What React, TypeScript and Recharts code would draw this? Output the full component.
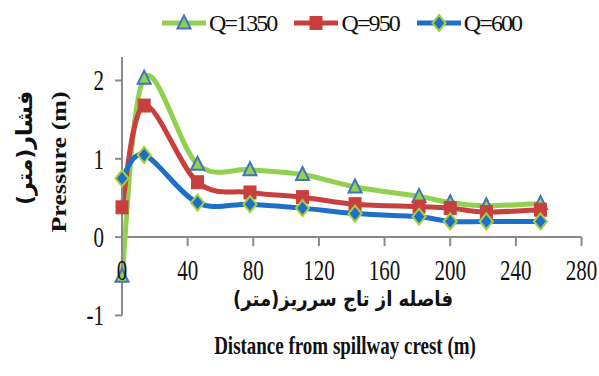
import React from 'react';
import { LineChart, Line, XAxis, YAxis, ReferenceLine, Legend } from 'recharts';

// ---------- data ----------
const distances = [0, 13.5, 46, 78, 110, 142, 181, 200, 222, 255];
const q1350 = [-0.5, 2.03, 0.93, 0.86, 0.8, 0.64, 0.52, 0.44, 0.4, 0.43];
const q950 = [0.38, 1.68, 0.7, 0.57, 0.51, 0.42, 0.39, 0.37, 0.32, 0.35];
const q600 = [0.75, 1.05, 0.44, 0.42, 0.37, 0.3, 0.26, 0.2, 0.2, 0.2];
const seriesNames = ['Q=1350', 'Q=950', 'Q=600'];
const xTicks = [0, 40, 80, 120, 160, 200, 240, 280];
const yTicks = [-1, 0, 1, 2];
const xTitleFa = 'فاصله از تاج سرریز(متر)';
const xTitleEn = 'Distance from spillway crest (m)';
const yTitleFa = 'فشار(متر)';
const yTitleEn = 'Pressure (m)';

const data = distances.map((x, i) => ({ x, q1350: q1350[i], q950: q950[i], q600: q600[i] }));

// ---------- layout / style ----------
const W = 599;
const H = 376;
const MARGIN = { top: 57, right: 17.5, bottom: 30.6, left: 0 };
const X_AXIS_H = 30;
const Y_AXIS_W = 122;
const Y_MIN = -1;
const Y_MAX = 2.3;
const PLOT_H = H - MARGIN.top - MARGIN.bottom - X_AXIS_H;
const Y_ZERO = MARGIN.top + (Y_MAX / (Y_MAX - Y_MIN)) * PLOT_H;
const AXIS = '#8a8a8a';
const SERIF = "'Liberation Serif', 'Times New Roman', serif";
const FA = "'DejaVu Sans', sans-serif";

const GREEN = '#92d050';
const RED = '#c8403e';
const BLUE = '#1e6fc8';

// Excel-like smoothed line (Catmull-Rom through points)
function excelCurve(context: any) {
  let pts: number[][] = [];
  return {
    areaStart() {},
    areaEnd() {},
    lineStart() {
      pts = [];
    },
    point(x: number, y: number) {
      pts.push([+x, +y]);
    },
    lineEnd() {
      const n = pts.length;
      if (!n) return;
      context.moveTo(pts[0][0], pts[0][1]);
      for (let i = 0; i < n - 1; i++) {
        const p0 = pts[i - 1] || pts[i];
        const p1 = pts[i];
        const p2 = pts[i + 1];
        const p3 = pts[i + 2] || p2;
        context.bezierCurveTo(
          p1[0] + (p2[0] - p0[0]) / 6,
          p1[1] + (p2[1] - p0[1]) / 6,
          p2[0] - (p3[0] - p1[0]) / 6,
          p2[1] - (p3[1] - p1[1]) / 6,
          p2[0],
          p2[1]
        );
      }
    },
  };
}

const Triangle = ({ cx, cy }: any) =>
  cx == null || cy == null ? null : (
    <polygon
      points={`${cx},${cy - 7.5} ${cx + 6.5},${cy + 5.5} ${cx - 6.5},${cy + 5.5}`}
      fill={GREEN}
      stroke="#4472c4"
      strokeWidth={2}
    />
  );
const Square = ({ cx, cy }: any) =>
  cx == null || cy == null ? null : (
    <rect x={cx - 6} y={cy - 6.5} width={12} height={13} fill={RED} stroke={RED} strokeWidth={1} />
  );
const Diamond = ({ cx, cy }: any) =>
  cx == null || cy == null ? null : (
    <polygon
      points={`${cx},${cy - 8} ${cx + 6.5},${cy} ${cx},${cy + 8} ${cx - 6.5},${cy}`}
      fill={BLUE}
      stroke="#a4d03c"
      strokeWidth={2}
    />
  );

const SERIES = [
  { key: 'q1350', name: seriesNames[0], color: GREEN, Marker: Triangle },
  { key: 'q950', name: seriesNames[1], color: RED, Marker: Square },
  { key: 'q600', name: seriesNames[2], color: BLUE, Marker: Diamond },
];

const XTick = ({ x, payload }: any) => (
  <g>
    <line x1={x} y1={Y_ZERO} x2={x} y2={Y_ZERO + 9} stroke={AXIS} strokeWidth={2} />
    <text
      transform={`translate(${x},${Y_ZERO + 43}) scale(0.7,1)`}
      textAnchor="middle"
      fontFamily={SERIF}
      fontSize={30}
      fill="#111"
    >
      {payload.value}
    </text>
  </g>
);

const YTick = ({ x, y, payload }: any) => (
  <text
    transform={`translate(${x},${y + 10}) scale(0.7,1)`}
    textAnchor="end"
    fontFamily={SERIF}
    fontSize={30}
    fill="#111"
  >
    {payload.value}
  </text>
);

const LegendContent = () => (
  <div style={{ display: 'flex', alignItems: 'center', paddingLeft: 162 }}>
    {SERIES.map((s, i) => (
      <div key={s.key} style={{ display: 'flex', alignItems: 'center', marginLeft: i ? 18 : 0 }}>
        <svg width={44} height={26}>
          <line x1={0} y1={13} x2={44} y2={13} stroke={s.color} strokeWidth={5} />
          <s.Marker cx={22} cy={13} />
        </svg>
        <span
          style={{
            fontFamily: SERIF,
            fontSize: 24,
            letterSpacing: -1.9,
            marginLeft: 3,
            color: '#111',
            lineHeight: '26px',
          }}
        >
          {s.name}
        </span>
      </div>
    ))}
  </div>
);

export default function App() {
  return (
    <div style={{ position: 'absolute', left: 0, top: 0, width: W, height: H, background: '#fff' }}>
      <LineChart width={W} height={H} data={data} margin={MARGIN}>
        <XAxis
          type="number"
          dataKey="x"
          domain={[0, 280]}
          ticks={xTicks}
          axisLine={false}
          tickLine={false}
          height={X_AXIS_H}
          tick={<XTick />}
          interval={0}
        />
        <YAxis
          type="number"
          domain={[Y_MIN, Y_MAX]}
          ticks={yTicks}
          width={Y_AXIS_W}
          axisLine={{ stroke: AXIS, strokeWidth: 2 }}
          tickLine={{ stroke: AXIS, strokeWidth: 2 }}
          tickSize={7}
          tickMargin={11}
          tick={<YTick />}
          interval={0}
          allowDataOverflow
        />
        <ReferenceLine y={0} stroke={AXIS} strokeWidth={2} />
        <Legend
          verticalAlign="middle"
          align="center"
          layout="horizontal"
          wrapperStyle={{ top: 10, left: 0, width: W }}
          content={<LegendContent />}
        />
        {SERIES.map((s) => (
          <Line
            key={s.key}
            dataKey={s.key}
            name={s.name}
            type={excelCurve as any}
            stroke={s.color}
            strokeWidth={5}
            dot={<s.Marker />}
            activeDot={false}
            isAnimationActive={false}
          />
        ))}
        <g>
          <text
            transform="translate(25,148) rotate(-90)"
            textAnchor="middle"
            fontFamily={FA}
            fontWeight="bold"
            fontSize={22}
            dy={7}
            fill="#111"
          >
            {yTitleFa}
          </text>
          <text
            transform="translate(59,162) rotate(-90) scale(1.3,1)"
            textAnchor="middle"
            fontFamily={SERIF}
            fontWeight="bold"
            fontSize={20}
            dy={7}
            fill="#111"
          >
            {yTitleEn}
          </text>
          <text
            transform="translate(343,306) scale(0.95,1.1)"
            textAnchor="middle"
            fontFamily={FA}
            fontWeight="bold"
            fontSize={19}
            fill="#111"
          >
            {xTitleFa}
          </text>
          <text
            transform="translate(345,354) scale(0.73,1)"
            textAnchor="middle"
            fontFamily={SERIF}
            fontWeight="bold"
            fontSize={26}
            fill="#111"
          >
            {xTitleEn}
          </text>
        </g>
      </LineChart>
    </div>
  );
}
